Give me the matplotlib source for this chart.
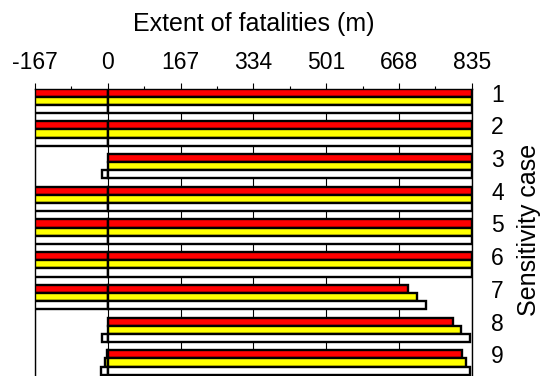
import matplotlib
matplotlib.use("Agg")
import matplotlib.pyplot as plt
from matplotlib.ticker import MultipleLocator, FixedLocator

plt.rcParams['font.family'] = ['Liberation Sans', 'DejaVu Sans']
plt.rcParams['axes.unicode_minus'] = False

cases = [1, 2, 3, 4, 5, 6, 7, 8, 9]
x_ticks = [-167, 0, 167, 334, 501, 668, 835]

# Downstream (positive) extent of fatalities per case, in metres
red_pos = [835, 835, 835, 835, 835, 835, 689, 791, 813]
yellow_pos = [835, 835, 835, 835, 835, 835, 709, 810, 823]
white_pos = [835, 835, 835, 835, 835, 835, 730, 831, 831]

# Upstream (negative) extent of fatalities per case, in metres
red_neg = [-167, -167, 0, -167, -167, -167, -167, 0, -2]
yellow_neg = [-167, -167, 0, -167, -167, -167, -167, 0, -6]
white_neg = [-167, -167, -14, -167, -167, -167, -167, -14, -15]

series = [
    ("#ff0000", red_neg, red_pos),
    ("#ffff00", yellow_neg, yellow_pos),
    ("#ffffff", white_neg, white_pos),
]

W, H, DPI = 546, 376, 100
fig = plt.figure(figsize=(W / DPI, H / DPI), dpi=DPI)

left_px, right_px = 35.0, 471.7
top_px, bottom_px = 88.5, 383.0
ax_w, ax_h = right_px - left_px, bottom_px - top_px
ax = fig.add_axes([left_px / W, 1 - bottom_px / H, ax_w / W, ax_h / H])

bar_h = 0.25
for k, (color, neg, pos) in enumerate(series):
    ys = [c + k * bar_h for c in cases]
    for y, n, p in zip(ys, neg, pos):
        if n != 0:
            ax.barh(y, n, height=bar_h, left=0, color=color,
                    edgecolor="black", linewidth=1.7, zorder=3)
        ax.barh(y, p, height=bar_h, left=0, color=color,
                edgecolor="black", linewidth=1.7, zorder=3)

ax.set_xlim(-167, 835)
ax.set_ylim(9.875, 0.875)

ax.xaxis.tick_top()
ax.xaxis.set_label_position("top")
ax.xaxis.set_major_locator(FixedLocator(x_ticks))
ax.xaxis.set_minor_locator(MultipleLocator(83.5))
ax.tick_params(axis="x", which="major", length=4.5, width=0.8,
               labelsize=16.5, pad=6)
ax.tick_params(axis="x", which="minor", length=2.2, width=0.8)
ax.set_xlabel("Extent of fatalities (m)", fontsize=18)
ax.xaxis.set_label_coords(0.5, 1 + (top_px - 24) / ax_h)
ax.xaxis.label.set_va("center")

ax.yaxis.tick_right()
ax.yaxis.set_label_position("right")
ax.set_yticks(cases)
ax.set_yticklabels([str(c) for c in cases])
ax.tick_params(axis="y", which="both", length=0, labelsize=16.5, pad=14)
ax.set_ylabel("Sensitivity case", fontsize=18, rotation=90)
ax.yaxis.set_label_coords((529 - left_px) / ax_w, (bottom_px - 230) / ax_h)
ax.yaxis.label.set_va("center")
ax.yaxis.label.set_ha("center")

ax.grid(axis="x", which="major", color="black", linewidth=0.8, zorder=0)
ax.set_axisbelow(True)
for s in ax.spines.values():
    s.set_linewidth(1.0)

fig.savefig("out.png", dpi=DPI)
